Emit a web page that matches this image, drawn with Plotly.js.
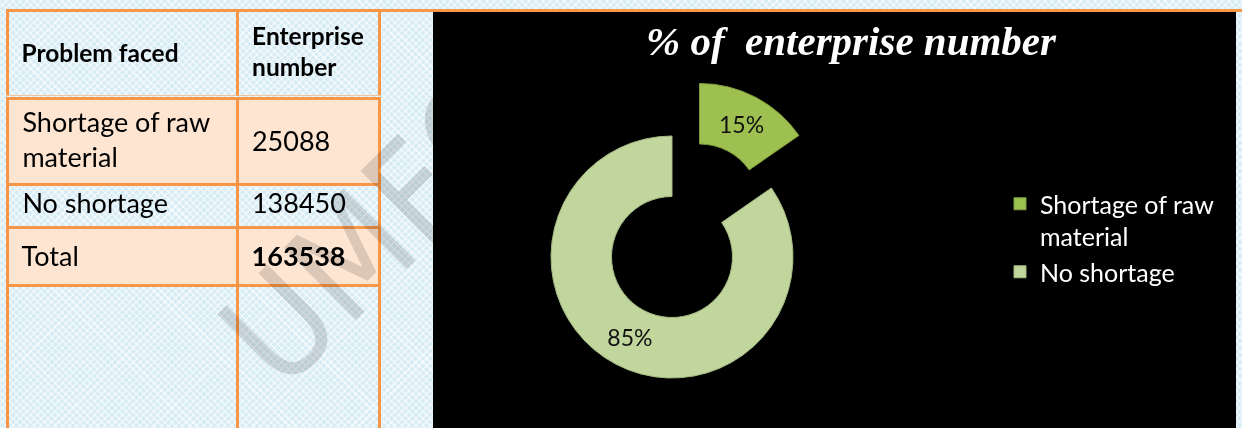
<!DOCTYPE html>
<html>
<head>
<meta charset="utf-8">
<script src="https://cdn.plot.ly/plotly-3.0.1.min.js"></script>
<style>
html, body { margin:0; padding:0; width:1242px; height:428px; overflow:hidden; }
body {
  background-color:#d8ecf5;
  background-image:
    repeating-linear-gradient(45deg, rgba(255,255,255,0.55) 0px, rgba(255,255,255,0.55) 1.5px, transparent 1.5px, transparent 5px),
    repeating-linear-gradient(-45deg, rgba(255,255,255,0.55) 0px, rgba(255,255,255,0.55) 1.5px, transparent 1.5px, transparent 5px);
}
#wrap { position:relative; width:1242px; height:428px; overflow:hidden; }
#chart { position:absolute; left:0; top:0; width:1242px; height:460px; }
#wm { position:absolute; left:0; top:0; width:1242px; height:428px; pointer-events:none; mix-blend-mode:multiply; }
</style>
</head>
<body>
<div id="wrap">
  <div id="chart"></div>
  <svg id="wm" width="1242" height="428">
    <text transform="translate(282,394) rotate(-45)" x="0" y="0"
          font-family="DejaVu Sans Condensed, DejaVu Sans" font-stretch="condensed"
          font-size="140" fill="#dedede">UMFO</text>
  </svg>
</div>
<script>
// ---------- data ----------
const headerLabels = ['Problem faced', 'Enterprise number'];
const problems = ['Shortage of raw material', 'No shortage', 'Total'];
const enterprises = [25088, 138450, 163538];
const chartTitle = '% of  enterprise number';

// ---------- styling / layout constants ----------
const W = 1242, H = 460;
const ORANGE = '#f79646';
const PEACH = '#fde5d2';
const CLEAR = 'rgba(0,0,0,0)';
const FONT = 'Lato';
const NB = '\u00a0';
// grid rows: [top, bottom] in px from the top of the figure
const rowSpans = [[10.5, 96], [98.5, 184.5], [184.5, 227.5], [227.5, 285.5], [285.5, 460]];
const rowFills = [CLEAR, PEACH, CLEAR, PEACH, CLEAR];
const colEdges = [7.5, 237, 379.5];
// wanted text baselines per cell (px from top) and font sizes per row
const baselines = [[62, 45], [131.7, 150.7], [213, 213], [266, 266]];
const rowFont = [24.5, 27, 27, 27];
const aligns = [['left', 'center'], ['left', 'left'], ['left', 'left'], ['left', 'left']];

function wrap(s, n) {
  const words = s.split(' ');
  const lines = [];
  let cur = '';
  words.forEach(w => {
    if (cur && (cur + ' ' + w).length > n) { lines.push(cur); cur = w; }
    else cur = cur ? cur + ' ' + w : w;
  });
  if (cur) lines.push(cur);
  return lines;
}
const span = lines => lines.map(l => '<span>' + l + '</span>').join('<br>');
const bold = lines => lines.map(l => '<b>' + l + '</b>').join('<br>');

// cell texts built from the data arrays
const cellTexts = [
  [bold([NB + headerLabels[0]]), bold(wrap(headerLabels[1], 11))],
  [span(wrap(problems[0], 16).map(l => NB + l)), span([NB + enterprises[0]])],
  [span([NB + problems[1]]), span([NB + enterprises[1]])],
  [span([NB + problems[2]]), bold([NB + enterprises[2]])]
];

const traces = [];
// grid: one table per row (fills + orange borders)
rowSpans.forEach((s, i) => {
  traces.push({
    type: 'table',
    domain: { x: [colEdges[0] / W, colEdges[2] / W], y: [1 - s[1] / H, 1 - s[0] / H] },
    columnwidth: [colEdges[1] - colEdges[0], colEdges[2] - colEdges[1]],
    header: {
      values: [[''], ['']],
      height: s[1] - s[0],
      fill: { color: rowFills[i] },
      line: { color: ORANGE, width: 3 },
      font: { family: FONT, size: 12, color: '#000' }
    },
    cells: { values: [] },
    hoverinfo: 'skip'
  });
});
// texts: one transparent single-cell table per cell, placed on its baseline
cellTexts.forEach((row, r) => {
  row.forEach((txt, c) => {
    const size = rowFont[r];
    const top = baselines[r][c] - 8 - size;
    traces.push({
      type: 'table',
      domain: { x: [colEdges[c] / W, colEdges[c + 1] / W], y: [1 - (top + 95) / H, 1 - top / H] },
      header: {
        values: [[txt]],
        align: aligns[r][c],
        height: 95,
        fill: { color: CLEAR },
        line: { color: CLEAR, width: 0 },
        font: { family: FONT, size: size, color: '#000' }
      },
      cells: { values: [] },
      hoverinfo: 'skip'
    });
  });
});

// donut chart
const R = 121, PULL = 0.49, CX = 672, CY = 257;
const half = R * (1 + PULL);
const legendLabels = problems.slice(0, 2).map(p => wrap(p, 16).join('<br>'));
traces.push({
  type: 'pie',
  labels: legendLabels,
  values: enterprises.slice(0, 2),
  hole: 0.5,
  pull: [PULL, 0],
  sort: false,
  direction: 'clockwise',
  rotation: 0,
  domain: { x: [(CX - half) / W, (CX + half) / W],
            y: [1 - (CY + half) / H, 1 - (CY - half) / H] },
  marker: { colors: ['#9dc050', '#c0d69c'],
            line: { color: ['#7d9b3c', '#a3b983'], width: 1 } },
  texttemplate: '%{percent:.0%}',
  textposition: 'inside',
  insidetextorientation: 'horizontal',
  textfont: { family: FONT, size: 23, color: '#111' },
  hoverinfo: 'skip'
});

const layout = {
  width: W, height: H,
  margin: { l: 0, r: 0, t: 0, b: 0 },
  paper_bgcolor: CLEAR,
  plot_bgcolor: CLEAR,
  showlegend: true,
  title: {
    text: chartTitle.replace('  ', NB + ' '),
    font: { family: 'Liberation Serif', size: 41, color: '#ffffff', weight: 'bold', style: 'italic' },
    x: 851 / W, xanchor: 'center', xref: 'paper',
    y: 1 - 41 / H, yanchor: 'middle', yref: 'container'
  },
  legend: {
    x: 1000 / W, xanchor: 'left',
    y: 1 - 181 / H, yanchor: 'top',
    valign: 'top',
    bgcolor: CLEAR,
    font: { family: FONT, size: 25, color: '#ffffff' },
    itemwidth: 30,
    tracegroupgap: 0
  },
  shapes: [
    { type: 'rect', xref: 'paper', yref: 'paper', layer: 'below',
      x0: 433 / W, x1: 1236 / W, y0: 0, y1: 1 - 12 / H,
      fillcolor: '#000000', line: { width: 0 } },
    { type: 'line', xref: 'paper', yref: 'paper',
      x0: colEdges[2] / W, x1: 1, y0: 1 - rowSpans[0][0] / H, y1: 1 - rowSpans[0][0] / H,
      line: { color: ORANGE, width: 3 } }
  ]
};

Plotly.newPlot('chart', traces, layout, { staticPlot: true, displayModeBar: false });
</script>
</body>
</html>
